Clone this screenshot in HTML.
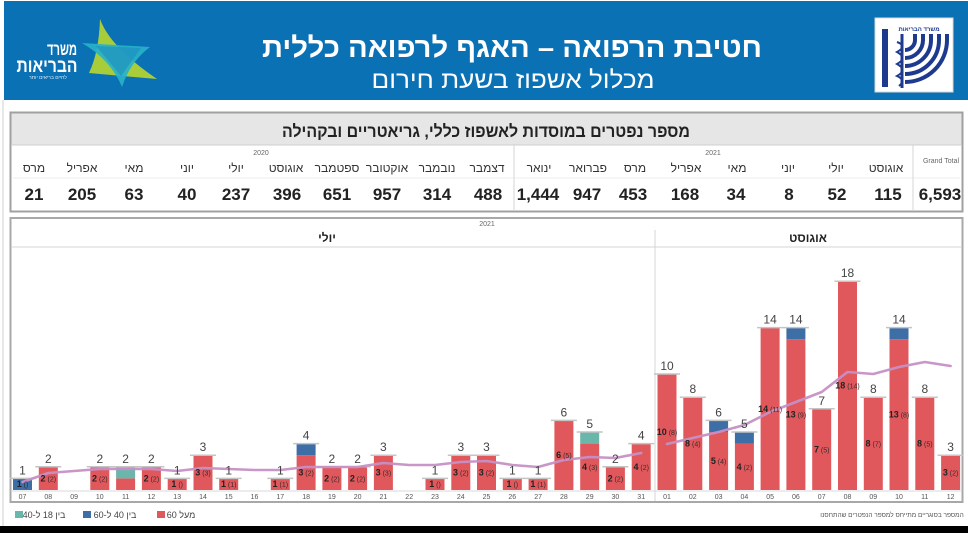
<!DOCTYPE html>
<html><head><meta charset="utf-8"><style>
html,body{margin:0;padding:0;background:#fff;overflow:hidden;width:968px;height:533px}
svg{display:block}
text{font-family:"Liberation Sans","DejaVu Sans",sans-serif}
</style></head><body>
<svg width="968" height="533" viewBox="0 0 968 533" xmlns="http://www.w3.org/2000/svg">
<rect x="0" y="0" width="968" height="533" fill="#fff"/>
<!-- header -->
<rect x="4" y="1" width="964" height="99" fill="#0b71b5"/>
<!-- left logo -->
<path d="M100 19 Q110 47 157 79 L89 73 Q99 52 100 19 Z" fill="#a9cd3a"/>
<path d="M82 43 L150 47 Q130 62 122 87 Q111 60 82 43 Z" fill="#27b2c9" opacity="0.92"/>
<path d="M96 46 L141 48 L121 76 Z" fill="#1d8cc0" opacity="0.6"/>
<text x="62" y="55" fill="#fff" font-size="17" font-weight="bold" text-anchor="middle" textLength="30" lengthAdjust="spacingAndGlyphs">משרד</text>
<text x="47" y="72" fill="#fff" font-size="19" font-weight="bold" text-anchor="middle" textLength="61" lengthAdjust="spacingAndGlyphs">הבריאות</text>
<text x="48" y="79" fill="#dfefff" font-size="5" text-anchor="middle">לחיים בריאים יותר</text>
<!-- titles -->
<text x="512" y="57" fill="#fff" font-size="28" font-weight="bold" text-anchor="middle" direction="rtl" textLength="500" lengthAdjust="spacingAndGlyphs">חטיבת הרפואה – האגף לרפואה כללית</text>
<text x="513" y="88" fill="#fff" font-size="24" text-anchor="middle" direction="rtl" textLength="283" lengthAdjust="spacingAndGlyphs">מכלול אשפוז בשעת חירום</text>
<!-- right logo -->
<rect x="875" y="18" width="78" height="74" fill="#fff" stroke="#d8d8d8"/>
<rect x="882" y="29" width="6" height="58" fill="#1d3a8f"/>
<text x="919" y="31" fill="#1d3a8f" font-size="6" font-weight="bold" text-anchor="middle">משרד הבריאות</text>
<g fill="none" stroke="#1d3a8f" stroke-width="4">
<path d="M915 34 V40 A10 10 0 0 1 905 50"/>
<path d="M923 34 V40 A18 18 0 0 1 905 58"/>
<path d="M931 34 V40 A26 26 0 0 1 905 66"/>
<path d="M939 34 V40 A34 34 0 0 1 905 74"/>
<path d="M947 34 V40 A42 42 0 0 1 905 82"/>
</g>
<line x1="902" y1="34" x2="902" y2="88" stroke="#1d3a8f" stroke-width="3"/>
<path d="M897 42 Q908 46 897 52 Q908 58 897 64 Q908 70 897 76 Q906 80 899 86" fill="none" stroke="#1d3a8f" stroke-width="2"/>

<!-- page border -->
<line x1="3" y1="100" x2="3" y2="526" stroke="#cfcfcf" stroke-width="1"/>

<!-- table panel -->
<rect x="10.5" y="112.5" width="952" height="99" fill="#fff" stroke="#a0a0a0" stroke-width="2"/>
<rect x="11.5" y="113.5" width="950" height="31" fill="#e6e6e6"/>
<line x1="11" y1="145" x2="962" y2="145" stroke="#cfcfcf"/>
<line x1="13" y1="178" x2="960" y2="178" stroke="#ececec"/>
<line x1="514" y1="145" x2="514" y2="211" stroke="#d6d6d6"/>
<line x1="913" y1="145" x2="913" y2="211" stroke="#d6d6d6"/>
<text x="486" y="137" fill="#222" font-size="17" font-weight="bold" text-anchor="middle" direction="rtl" textLength="408" lengthAdjust="spacingAndGlyphs">מספר נפטרים במוסדות לאשפוז כללי, גריאטריים ובקהילה</text>
<text x="261" y="155" fill="#666" font-size="7" text-anchor="middle">2020</text>
<text x="713" y="155" fill="#666" font-size="7" text-anchor="middle">2021</text>
<g font-size="12" fill="#333" text-anchor="middle">
<text x="34" y="172">מרס</text>
<text x="82" y="172">אפריל</text>
<text x="134" y="172">מאי</text>
<text x="187" y="172">יוני</text>
<text x="236" y="172">יולי</text>
<text x="286" y="172">אוגוסט</text>
<text x="337" y="172">ספטמבר</text>
<text x="387" y="172">אוקטובר</text>
<text x="437" y="172">נובמבר</text>
<text x="487" y="172">דצמבר</text>
<text x="539" y="172">ינואר</text>
<text x="588" y="172">פברואר</text>
<text x="635" y="172">מרס</text>
<text x="686" y="172">אפריל</text>
<text x="737" y="172">מאי</text>
<text x="788" y="172">יוני</text>
<text x="836" y="172">יולי</text>
<text x="886" y="172">אוגוסט</text>
</g>
<text x="941" y="163" fill="#666" font-size="7" text-anchor="middle">Grand Total</text>
<g font-size="17" font-weight="bold" fill="#222" text-anchor="middle">
<text x="34" y="200">21</text>
<text x="82" y="200">205</text>
<text x="134" y="200">63</text>
<text x="187" y="200">40</text>
<text x="236" y="200">237</text>
<text x="287" y="200">396</text>
<text x="337" y="200">651</text>
<text x="387" y="200">957</text>
<text x="437" y="200">314</text>
<text x="488" y="200">488</text>
<text x="538" y="200">1,444</text>
<text x="587" y="200">947</text>
<text x="633" y="200">453</text>
<text x="685" y="200">168</text>
<text x="736" y="200">34</text>
<text x="789" y="200">8</text>
<text x="837" y="200">52</text>
<text x="888" y="200">115</text>
<text x="940" y="200">6,593</text>
</g>

<!-- chart panel -->
<rect x="10.5" y="218" width="952" height="284" fill="#fff" stroke="#a8a8a8" stroke-width="2"/>
<line x1="11" y1="247" x2="962" y2="247" stroke="#d4d4d4"/>
<line x1="655" y1="230" x2="655" y2="501" stroke="#d4d4d4"/>
<line x1="11" y1="491" x2="962" y2="491" stroke="#d8d8d8"/>
<text x="487" y="226" fill="#666" font-size="7" text-anchor="middle">2021</text>
<text x="327" y="242" fill="#222" font-size="12" font-weight="bold" text-anchor="middle">יולי</text>
<text x="808" y="242" fill="#222" font-size="12" font-weight="bold" text-anchor="middle">אוגוסט</text>

<!-- bars -->
<g fill="#e1585c">
<rect x="38.8" y="466.8" width="19" height="23.2"/>
<rect x="90.3" y="466.8" width="19" height="23.2"/>
<rect x="116.1" y="478.4" width="19" height="11.6"/>
<rect x="141.9" y="466.8" width="19" height="23.2"/>
<rect x="167.7" y="478.4" width="19" height="11.6"/>
<rect x="193.5" y="455.2" width="19" height="34.8"/>
<rect x="219.2" y="478.4" width="19" height="11.6"/>
<rect x="270.8" y="478.4" width="19" height="11.6"/>
<rect x="296.6" y="455.2" width="19" height="34.8"/>
<rect x="322.4" y="466.8" width="19" height="23.2"/>
<rect x="348.1" y="466.8" width="19" height="23.2"/>
<rect x="373.9" y="455.2" width="19" height="34.8"/>
<rect x="425.5" y="478.4" width="19" height="11.6"/>
<rect x="451.3" y="455.2" width="19" height="34.8"/>
<rect x="477" y="455.2" width="19" height="34.8"/>
<rect x="502.8" y="478.4" width="19" height="11.6"/>
<rect x="528.6" y="478.4" width="19" height="11.6"/>
<rect x="554.4" y="420.4" width="19" height="69.6"/>
<rect x="580.2" y="443.6" width="19" height="46.4"/>
<rect x="605.9" y="466.8" width="19" height="23.2"/>
<rect x="631.7" y="443.6" width="19" height="46.4"/>
<rect x="657.5" y="374" width="19" height="116"/>
<rect x="683.3" y="397.2" width="19" height="92.8"/>
<rect x="709.1" y="432" width="19" height="58"/>
<rect x="734.9" y="443.6" width="19" height="46.4"/>
<rect x="760.6" y="327.6" width="19" height="162.4"/>
<rect x="786.4" y="339.2" width="19" height="150.8"/>
<rect x="812.2" y="408.8" width="19" height="81.2"/>
<rect x="838" y="281.2" width="19" height="208.8"/>
<rect x="863.8" y="397.2" width="19" height="92.8"/>
<rect x="889.5" y="339.2" width="19" height="150.8"/>
<rect x="915.3" y="397.2" width="19" height="92.8"/>
<rect x="941.1" y="455.2" width="19" height="34.8"/>
</g>
<g fill="#3e6ea6">
<rect x="13" y="478.4" width="19" height="11.6"/>
<rect x="296.6" y="443.6" width="19" height="11.6"/>
<rect x="709.1" y="420.4" width="19" height="11.6"/>
<rect x="734.9" y="432" width="19" height="11.6"/>
<rect x="786.4" y="327.6" width="19" height="11.6"/>
<rect x="889.5" y="327.6" width="19" height="11.6"/>
</g>
<g fill="#69b6aa">
<rect x="116.1" y="466.8" width="19" height="11.6"/>
<rect x="580.2" y="432" width="19" height="11.6"/>
</g>
<!-- caps -->
<g stroke="#c4c4c4" stroke-width="1.5">
<line x1="9.5" x2="35.5" y1="478.4" y2="478.4"/>
<line x1="35.3" x2="61.3" y1="466.8" y2="466.8"/>
<line x1="86.8" x2="112.8" y1="466.8" y2="466.8"/>
<line x1="112.6" x2="138.6" y1="466.8" y2="466.8"/>
<line x1="138.4" x2="164.4" y1="466.8" y2="466.8"/>
<line x1="164.2" x2="190.2" y1="478.4" y2="478.4"/>
<line x1="190" x2="216" y1="455.2" y2="455.2"/>
<line x1="215.7" x2="241.7" y1="478.4" y2="478.4"/>
<line x1="267.3" x2="293.3" y1="478.4" y2="478.4"/>
<line x1="293.1" x2="319.1" y1="443.6" y2="443.6"/>
<line x1="318.9" x2="344.9" y1="466.8" y2="466.8"/>
<line x1="344.6" x2="370.6" y1="466.8" y2="466.8"/>
<line x1="370.4" x2="396.4" y1="455.2" y2="455.2"/>
<line x1="422" x2="448" y1="478.4" y2="478.4"/>
<line x1="447.8" x2="473.8" y1="455.2" y2="455.2"/>
<line x1="473.5" x2="499.5" y1="455.2" y2="455.2"/>
<line x1="499.3" x2="525.3" y1="478.4" y2="478.4"/>
<line x1="525.1" x2="551.1" y1="478.4" y2="478.4"/>
<line x1="550.9" x2="576.9" y1="420.4" y2="420.4"/>
<line x1="576.7" x2="602.7" y1="432" y2="432"/>
<line x1="602.4" x2="628.4" y1="466.8" y2="466.8"/>
<line x1="628.2" x2="654.2" y1="443.6" y2="443.6"/>
<line x1="654" x2="680" y1="374" y2="374"/>
<line x1="679.8" x2="705.8" y1="397.2" y2="397.2"/>
<line x1="705.6" x2="731.6" y1="420.4" y2="420.4"/>
<line x1="731.4" x2="757.4" y1="432" y2="432"/>
<line x1="757.1" x2="783.1" y1="327.6" y2="327.6"/>
<line x1="782.9" x2="808.9" y1="327.6" y2="327.6"/>
<line x1="808.7" x2="834.7" y1="408.8" y2="408.8"/>
<line x1="834.5" x2="860.5" y1="281.2" y2="281.2"/>
<line x1="860.3" x2="886.3" y1="397.2" y2="397.2"/>
<line x1="886" x2="912" y1="327.6" y2="327.6"/>
<line x1="911.8" x2="937.8" y1="397.2" y2="397.2"/>
<line x1="937.6" x2="963" y1="455.2" y2="455.2"/>
</g>
<!-- moving average line -->
<g fill="none" stroke="#c690c5" stroke-width="2.6" stroke-linejoin="round" stroke-linecap="round" opacity="0.95">
<polyline points="22.5,482 48.3,473 74.1,471 99.8,469 125.6,469 151.4,469 177.2,471 203,468 228.7,469 254.5,470 280.3,470 306.1,467 331.9,467 357.6,467 383.4,463 409.2,465 435,465 460.8,462 486.5,461 512.3,465 538.1,467 563.9,460 589.7,457 615.4,458 641.2,453"/>
<polyline points="667,444 692.8,438 718.6,432 744.4,425 770.1,412 795.9,402 821.7,392 847.5,372 873.3,374 899,367 924.8,362 950.6,366"/>
</g>
<!-- total labels -->
<g font-size="12" fill="#444" text-anchor="middle">
<text x="22.5" y="474.4">1</text>
<text x="48.3" y="462.8">2</text>
<text x="99.8" y="462.8">2</text>
<text x="125.6" y="462.8">2</text>
<text x="151.4" y="462.8">2</text>
<text x="177.2" y="474.4">1</text>
<text x="203" y="451.2">3</text>
<text x="228.7" y="474.4">1</text>
<text x="280.3" y="474.4">1</text>
<text x="306.1" y="439.6">4</text>
<text x="331.9" y="462.8">2</text>
<text x="357.6" y="462.8">2</text>
<text x="383.4" y="451.2">3</text>
<text x="435" y="474.4">1</text>
<text x="460.8" y="451.2">3</text>
<text x="486.5" y="451.2">3</text>
<text x="512.3" y="474.4">1</text>
<text x="538.1" y="474.4">1</text>
<text x="563.9" y="416.4">6</text>
<text x="589.7" y="428">5</text>
<text x="615.4" y="462.8">2</text>
<text x="641.2" y="439.6">4</text>
<text x="667" y="370">10</text>
<text x="692.8" y="393.2">8</text>
<text x="718.6" y="416.4">6</text>
<text x="744.4" y="428">5</text>
<text x="770.1" y="323.6">14</text>
<text x="795.9" y="323.6">14</text>
<text x="821.7" y="404.8">7</text>
<text x="847.5" y="277.2">18</text>
<text x="873.3" y="393.2">8</text>
<text x="899" y="323.6">14</text>
<text x="924.8" y="393.2">8</text>
<text x="950.6" y="451.2">3</text>
</g>
<!-- inner labels -->
<g font-size="9" fill="#222" text-anchor="middle" font-weight="bold">
<text x="22.5" y="487.2">1<tspan font-weight="normal" font-size="7" fill="#3a2a2a"> ()</tspan></text>
<text x="48.3" y="481.4">2<tspan font-weight="normal" font-size="7" fill="#3a2a2a"> (2)</tspan></text>
<text x="99.8" y="481.4">2<tspan font-weight="normal" font-size="7" fill="#3a2a2a"> (2)</tspan></text>
<text x="151.4" y="481.4">2<tspan font-weight="normal" font-size="7" fill="#3a2a2a"> (2)</tspan></text>
<text x="177.2" y="487.2">1<tspan font-weight="normal" font-size="7" fill="#3a2a2a"> ()</tspan></text>
<text x="203" y="475.6">3<tspan font-weight="normal" font-size="7" fill="#3a2a2a"> (3)</tspan></text>
<text x="228.7" y="487.2">1<tspan font-weight="normal" font-size="7" fill="#3a2a2a"> (1)</tspan></text>
<text x="280.3" y="487.2">1<tspan font-weight="normal" font-size="7" fill="#3a2a2a"> (1)</tspan></text>
<text x="306.1" y="475.6">3<tspan font-weight="normal" font-size="7" fill="#3a2a2a"> (2)</tspan></text>
<text x="331.9" y="481.4">2<tspan font-weight="normal" font-size="7" fill="#3a2a2a"> (2)</tspan></text>
<text x="357.6" y="481.4">2<tspan font-weight="normal" font-size="7" fill="#3a2a2a"> (2)</tspan></text>
<text x="383.4" y="475.6">3<tspan font-weight="normal" font-size="7" fill="#3a2a2a"> (3)</tspan></text>
<text x="435" y="487.2">1<tspan font-weight="normal" font-size="7" fill="#3a2a2a"> ()</tspan></text>
<text x="460.8" y="475.6">3<tspan font-weight="normal" font-size="7" fill="#3a2a2a"> (2)</tspan></text>
<text x="486.5" y="475.6">3<tspan font-weight="normal" font-size="7" fill="#3a2a2a"> (2)</tspan></text>
<text x="512.3" y="487.2">1<tspan font-weight="normal" font-size="7" fill="#3a2a2a"> ()</tspan></text>
<text x="538.1" y="487.2">1<tspan font-weight="normal" font-size="7" fill="#3a2a2a"> (1)</tspan></text>
<text x="563.9" y="458.2">6<tspan font-weight="normal" font-size="7" fill="#3a2a2a"> (5)</tspan></text>
<text x="589.7" y="469.8">4<tspan font-weight="normal" font-size="7" fill="#3a2a2a"> (3)</tspan></text>
<text x="615.4" y="481.4">2<tspan font-weight="normal" font-size="7" fill="#3a2a2a"> (2)</tspan></text>
<text x="641.2" y="469.8">4<tspan font-weight="normal" font-size="7" fill="#3a2a2a"> (2)</tspan></text>
<text x="667" y="435">10<tspan font-weight="normal" font-size="7" fill="#3a2a2a"> (8)</tspan></text>
<text x="692.8" y="446.6">8<tspan font-weight="normal" font-size="7" fill="#3a2a2a"> (4)</tspan></text>
<text x="718.6" y="464">5<tspan font-weight="normal" font-size="7" fill="#3a2a2a"> (4)</tspan></text>
<text x="744.4" y="469.8">4<tspan font-weight="normal" font-size="7" fill="#3a2a2a"> (2)</tspan></text>
<text x="770.1" y="411.8">14<tspan font-weight="normal" font-size="7" fill="#3a2a2a"> (11)</tspan></text>
<text x="795.9" y="417.6">13<tspan font-weight="normal" font-size="7" fill="#3a2a2a"> (9)</tspan></text>
<text x="821.7" y="452.4">7<tspan font-weight="normal" font-size="7" fill="#3a2a2a"> (5)</tspan></text>
<text x="847.5" y="388.6">18<tspan font-weight="normal" font-size="7" fill="#3a2a2a"> (14)</tspan></text>
<text x="873.3" y="446.6">8<tspan font-weight="normal" font-size="7" fill="#3a2a2a"> (7)</tspan></text>
<text x="899" y="417.6">13<tspan font-weight="normal" font-size="7" fill="#3a2a2a"> (8)</tspan></text>
<text x="924.8" y="446.6">8<tspan font-weight="normal" font-size="7" fill="#3a2a2a"> (5)</tspan></text>
<text x="950.6" y="475.6">3<tspan font-weight="normal" font-size="7" fill="#3a2a2a"> (2)</tspan></text>
</g>
<!-- x axis labels -->
<g font-size="7" fill="#555" text-anchor="middle">
<text x="22.5" y="499">07</text><text x="48.3" y="499">08</text><text x="74.1" y="499">09</text><text x="99.8" y="499">10</text><text x="125.6" y="499">11</text><text x="151.4" y="499">12</text><text x="177.2" y="499">13</text><text x="203" y="499">14</text><text x="228.7" y="499">15</text><text x="254.5" y="499">16</text><text x="280.3" y="499">17</text><text x="306.1" y="499">18</text><text x="331.9" y="499">19</text><text x="357.6" y="499">20</text><text x="383.4" y="499">21</text><text x="409.2" y="499">22</text><text x="435" y="499">23</text><text x="460.8" y="499">24</text><text x="486.5" y="499">25</text><text x="512.3" y="499">26</text><text x="538.1" y="499">27</text><text x="563.9" y="499">28</text><text x="589.7" y="499">29</text><text x="615.4" y="499">30</text><text x="641.2" y="499">31</text>
<text x="667" y="499">01</text><text x="692.8" y="499">02</text><text x="718.6" y="499">03</text><text x="744.4" y="499">04</text><text x="770.1" y="499">05</text><text x="795.9" y="499">06</text><text x="821.7" y="499">07</text><text x="847.5" y="499">08</text><text x="873.3" y="499">09</text><text x="899" y="499">10</text><text x="924.8" y="499">11</text><text x="950.6" y="499">12</text>
</g>
<!-- legend -->
<rect x="15" y="511" width="8" height="7" fill="#69b6aa"/>
<text x="44" y="518" font-size="9" fill="#444" text-anchor="middle" direction="rtl">בין 18 ל-40</text>
<rect x="83" y="511" width="8" height="7" fill="#3e6ea6"/>
<text x="115" y="518" font-size="9" fill="#444" text-anchor="middle" direction="rtl">בין 40 ל-60</text>
<rect x="157" y="511" width="8" height="7" fill="#e1585c"/>
<text x="181" y="518" font-size="9" fill="#444" text-anchor="middle" direction="rtl">מעל 60</text>
<text x="892" y="517" font-size="6.5" fill="#555" text-anchor="middle" direction="rtl">המספר בסוגריים מתייחס למספר הנפטרים שהתחסנו</text>
<!-- bottom black band -->
<rect x="0" y="526" width="968" height="7" fill="#000"/>
</svg>
</body></html>
